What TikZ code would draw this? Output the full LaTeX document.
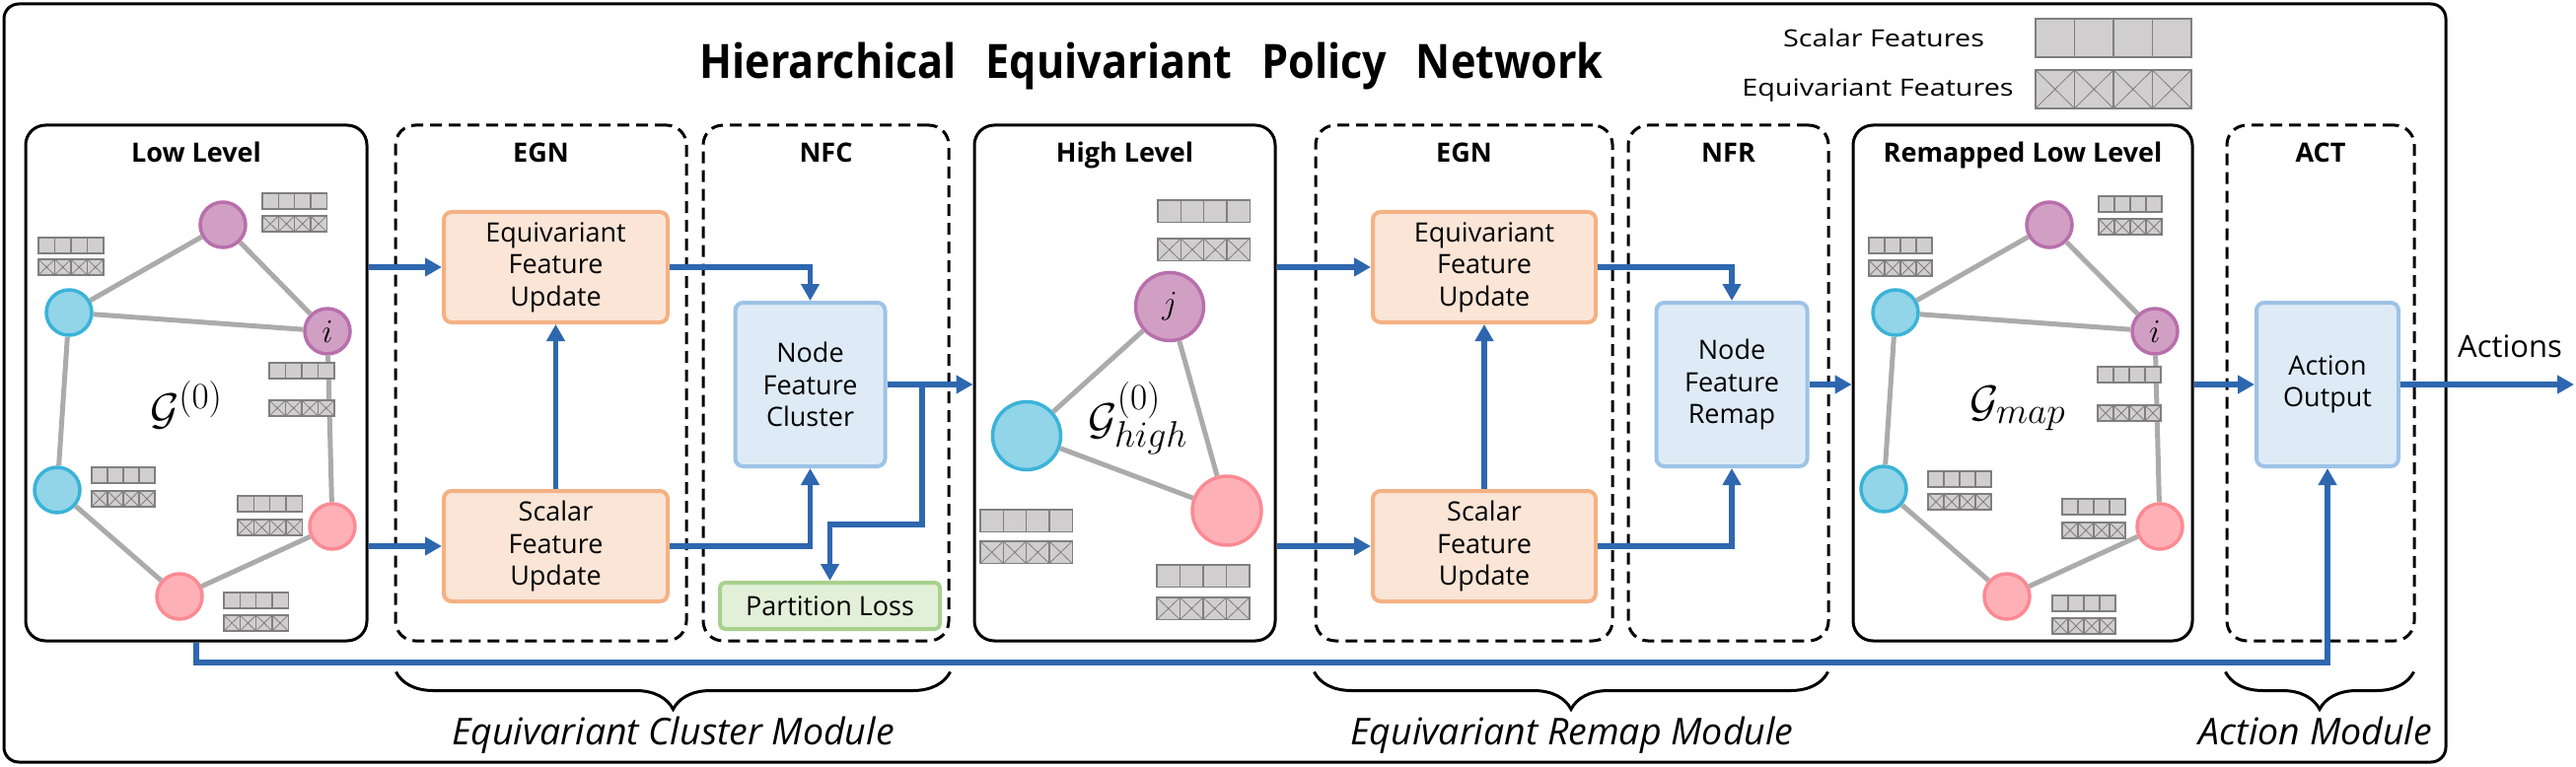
\RequirePackage{fix-cm}
\documentclass[tikz,border=0pt]{standalone}
\usepackage[no-math]{fontspec}
\setmainfont{Open Sans}
\usepackage{graphicx}
\usetikzlibrary{arrows.meta,decorations.pathreplacing,calc}
\definecolor{arrblue}{RGB}{46,103,175}
\definecolor{orfill}{RGB}{251,229,214}
\definecolor{ordraw}{RGB}{244,177,131}
\definecolor{blfill}{RGB}{222,235,247}
\definecolor{bldraw}{RGB}{157,195,230}
\definecolor{grfill}{RGB}{226,240,217}
\definecolor{grdraw}{RGB}{169,209,142}
\definecolor{pufill}{RGB}{209,159,196}
\definecolor{pudraw}{RGB}{184,111,172}
\definecolor{cyfill}{RGB}{146,212,232}
\definecolor{cydraw}{RGB}{58,179,216}
\definecolor{pkfill}{RGB}{253,177,183}
\definecolor{pkdraw}{RGB}{252,138,147}
\definecolor{edgegray}{RGB}{171,171,171}
\definecolor{barfill}{RGB}{208,206,206}
\definecolor{bardraw}{RGB}{127,127,127}
\tikzset{
  solidbox/.style={draw=black, line width=3pt, rounded corners=20pt, inner sep=0pt},
  dashbox/.style={draw=black, line width=3pt, rounded corners=20pt, dash pattern=on 12pt off 7pt, inner sep=0pt},
  ttl/.style={anchor=base, font=\fontsize{27}{32}\selectfont\bfseries},
  boxtxt/.style={align=center, inner sep=0pt, font=\fontsize{27}{32.5}\selectfont},
  obox/.style={boxtxt, draw=ordraw, fill=orfill, line width=4pt, rounded corners=8pt},
  bbox/.style={boxtxt, draw=bldraw, fill=blfill, line width=4pt, rounded corners=8pt},
  gbox/.style={boxtxt, draw=grdraw, fill=grfill, line width=4pt, rounded corners=5pt},
  gnode/.style={circle, line width=3.5pt, inner sep=0pt, font=\fontsize{24.88}{30}\selectfont},
  pu/.style={gnode, draw=pudraw, fill=pufill},
  cy/.style={gnode, draw=cydraw, fill=cyfill},
  pk/.style={gnode, draw=pkdraw, fill=pkfill},
  gedge/.style={draw=edgegray, line width=5pt},
  arr/.style={draw=arrblue, line width=5.5pt, -{Triangle[length=17pt,width=18pt]}},
  barst/.style={fill=barfill, draw=bardraw, line width=1.3pt},
  barx/.style={draw=bardraw, line width=0.8pt},
  bracest/.style={decorate, decoration={brace, mirror, amplitude=38pt}, line width=3pt, draw=black},
  modlbl/.style={anchor=base, font=\fontsize{37.5}{42}\selectfont\itshape},
  mathlbl/.style={font=\fontsize{24.88}{30}\selectfont},
}
\newcommand\sbar[4]{\foreach \k in {0,1,2,3}{\draw[barst] ({#1+\k*#3},#2) rectangle ++(#3,#4);}}
\newcommand\ebar[4]{\foreach \k in {0,1,2,3}{\draw[barst] ({#1+\k*#3},#2) rectangle ++(#3,#4);
  \draw[barx] ({#1+\k*#3},#2) -- ++(#3,#4) ({#1+\k*#3+#3},#2) -- ++(-#3,#4);}}
\newcommand\fpair[5]{\sbar{#1}{#2}{#4}{#5}\ebar{#1}{#3}{#4}{#5}}
\newcommand\graphlbl[1]{\scalebox{1.8}{$#1$}}
\newcommand\nodelbl[1]{\scalebox{1.35}{$#1$}}
\begin{document}
\begin{tikzpicture}[x=1pt,y=-1pt]
\useasboundingbox (0,0) rectangle (2612,778);
% outer frame
\draw[line width=3pt, rounded corners=15pt] (4,4) rectangle (2480,773);
% title
\node[anchor=base, font=\fontsize{48}{56}\selectfont\bfseries] (title) at (1167.5,80)
  {\scalebox{0.9}[1]{Hierarchical\hspace{33pt}Equivariant\hspace{33pt}Policy\hspace{33pt}Network}};
% legend
\node[anchor=base, font=\fontsize{24}{28}\selectfont] (lgs) at (1910,48) {\scalebox{1.2}[1]{Scalar Features}};
\node[anchor=base, font=\fontsize{24}{28}\selectfont] (lge) at (1904,98) {\scalebox{1.2}[1]{Equivariant Features}};
\sbar{2064}{19}{39.5}{39}
\ebar{2064}{71}{39.5}{39}
% containers
\node[solidbox, minimum width=346pt, minimum height=523pt] (low) at (199,388.5) {};
\node[dashbox, minimum width=295pt, minimum height=523pt] (egn1) at (548.5,388.5) {};
\node[dashbox, minimum width=249pt, minimum height=523pt] (nfc) at (837.5,388.5) {};
\node[solidbox, minimum width=305pt, minimum height=523pt] (high) at (1140.5,388.5) {};
\node[dashbox, minimum width=301pt, minimum height=523pt] (egn2) at (1484.5,388.5) {};
\node[dashbox, minimum width=203pt, minimum height=523pt] (nfr) at (1752.5,388.5) {};
\node[solidbox, minimum width=344pt, minimum height=523pt] (remap) at (2051,388.5) {};
\node[dashbox, minimum width=190pt, minimum height=523pt] (act) at (2353,388.5) {};
% container titles
\node[ttl] at (199,165) {Low Level};
\node[ttl] at (548.5,165) {EGN};
\node[ttl] at (837.5,165) {NFC};
\node[ttl] at (1140.5,165) {High Level};
\node[ttl] at (1484.5,165) {EGN};
\node[ttl] at (1752.5,165) {NFR};
\node[ttl] at (2051,165) {Remapped Low Level};
\node[ttl] at (2353,165) {ACT};
% inner boxes
\node[obox, minimum width=227pt, minimum height=112pt] (eq1) at (563.5,271) {Equivariant\\Feature\\Update};
\node[obox, minimum width=227pt, minimum height=112pt] (sc1) at (563.5,554) {Scalar\\Feature\\Update};
\node[bbox, minimum width=152pt, minimum height=166pt] (nfcb) at (821.5,390) {Node\\Feature\\Cluster};
\node[gbox, minimum width=223pt, minimum height=47pt] (ploss) at (841.5,614.5) {Partition Loss};
\node[obox, minimum width=226pt, minimum height=112pt] (eq2) at (1505,271) {Equivariant\\Feature\\Update};
\node[obox, minimum width=226pt, minimum height=112pt] (sc2) at (1505,554) {Scalar\\Feature\\Update};
\node[bbox, minimum width=153pt, minimum height=166pt] (nfrb) at (1756,390) {Node\\Feature\\Remap};
\node[bbox, minimum width=144pt, minimum height=166pt] (actb) at (2360,390) {Action\\Output};
% low-level graph
\node[pu, minimum size=46pt] (lp) at (226,228) {};
\node[cy, minimum size=46pt] (lc1) at (70,317) {};
\node[pu, minimum size=46pt] (li) at (332,336) {\nodelbl{i}};
\node[cy, minimum size=46pt] (lc2) at (58,497) {};
\node[pk, minimum size=46pt] (lk1) at (337,534) {};
\node[pk, minimum size=46pt] (lk2) at (182,605) {};
\draw[gedge] (lp) -- (lc1); \draw[gedge] (lp) -- (li); \draw[gedge] (lc1) -- (li);
\draw[gedge] (lc1) -- (lc2); \draw[gedge] (li) -- (lk1); \draw[gedge] (lc2) -- (lk2);
\draw[gedge] (lk2) -- (lk1);
\node[mathlbl] (lg) at (189,411) {\graphlbl{\mathcal{G}^{(0)}}};
\fpair{266}{196}{219}{16.3}{16}
\fpair{39}{241}{263}{16.5}{16}
\fpair{273}{368}{406}{16.5}{16}
\fpair{93}{474}{498}{16}{16}
\fpair{241}{503}{527}{16.3}{16}
\fpair{227}{601}{624}{16.3}{16}
% high-level graph
\node[pu, minimum size=69pt] (hj) at (1186,311) {\nodelbl{j}};
\node[cy, minimum size=69pt] (hc) at (1041,442) {};
\node[pk, minimum size=70pt] (hk) at (1244,518) {};
\draw[gedge] (hj) -- (hc); \draw[gedge] (hj) -- (hk); \draw[gedge] (hc) -- (hk);
\node[mathlbl] (hg) at (1154,424) {\graphlbl{\mathcal{G}^{(0)}_{high}}};
\fpair{1174}{203}{242}{23.3}{22.5}
\fpair{994}{517}{549}{23.3}{22.5}
\fpair{1173}{573}{606}{23.5}{22.5}
% remapped graph
\node[pu, minimum size=46pt] (rp) at (2078,228) {};
\node[cy, minimum size=46pt] (rc1) at (1922,317) {};
\node[pu, minimum size=46pt] (ri) at (2185,336) {\nodelbl{i}};
\node[cy, minimum size=46pt] (rc2) at (1910,496) {};
\node[pk, minimum size=46pt] (rk1) at (2190,534) {};
\node[pk, minimum size=46pt] (rk2) at (2035,605) {};
\draw[gedge] (rp) -- (rc1); \draw[gedge] (rp) -- (ri); \draw[gedge] (rc1) -- (ri);
\draw[gedge] (rc1) -- (rc2); \draw[gedge] (ri) -- (rk1); \draw[gedge] (rc2) -- (rk2);
\draw[gedge] (rk2) -- (rk1);
\node[mathlbl] (rg) at (2046,414) {\graphlbl{\mathcal{G}_{map}}};
\fpair{2128}{199}{222}{16}{16}
\fpair{1895}{241}{264}{16}{16}
\fpair{2127}{372}{411}{16}{16}
\fpair{1955}{478}{501}{16}{16}
\fpair{2091}{506}{530}{16}{16}
\fpair{2081}{604}{627}{16}{16}
% arrows
\draw[arr] (low.east |- eq1.west) -- (eq1.west);
\draw[arr] (low.east |- sc1.west) -- (sc1.west);
\draw[arr] (sc1.north) -- (eq1.south);
\draw[arr] (eq1.east) -| (nfcb.north);
\draw[arr] (sc1.east) -| (nfcb.south);
\draw[arr] (nfcb.east) -- (high.west |- nfcb.east);
\coordinate (br) at (935,390);
\coordinate (brd) at (935,532);
\draw[arr] (br) -- (brd) -| (ploss.north);
\draw[arr] (high.east |- eq2.west) -- (eq2.west);
\draw[arr] (high.east |- sc2.west) -- (sc2.west);
\draw[arr] (sc2.north) -- (eq2.south);
\draw[arr] (eq2.east) -| (nfrb.north);
\draw[arr] (sc2.east) -| (nfrb.south);
\draw[arr] (nfrb.east) -- (remap.west |- nfrb.east);
\draw[arr] (remap.east |- actb.west) -- (actb.west);
\coordinate (actend) at (2610,390);
\draw[arr] (actb.east) -- (actend);
\node[anchor=base, font=\fontsize{31}{35}\selectfont] (actlbl) at (2545,362.5) {Actions};
\coordinate (botline) at (0,672);
\draw[arr] (low.south) |- (actb.south |- botline) -- (actb.south);
% braces
\draw[bracest] ($(egn1.south west)+(2,30)$) -- ($(nfc.south east)+(0,30)$);
\draw[bracest] ($(egn2.south west)+(0,30)$) -- ($(nfr.south east)+(-2,30)$);
\draw[bracest] ($(act.south west)+(0,30)$) -- ($(act.south east)+(-2,30)$);
\node[modlbl] at (682.5,755) {Equivariant Cluster Module};
\node[modlbl] at (1594,755) {Equivariant Remap Module};
\node[modlbl] at (2348,755) {Action Module};
\end{tikzpicture}
\end{document}
